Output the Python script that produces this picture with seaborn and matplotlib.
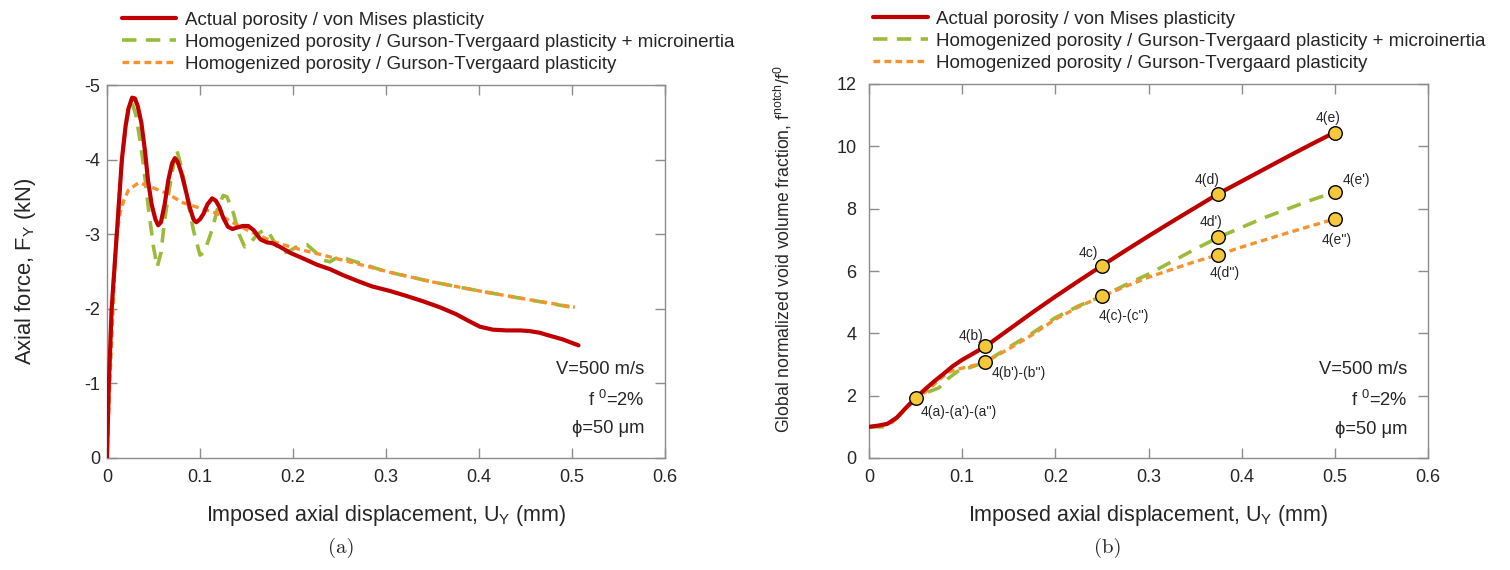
import numpy as np
import pandas as pd
import matplotlib
matplotlib.use("Agg")
import matplotlib.pyplot as plt
import seaborn as sns

# ---------------- data ----------------
labels = ["Actual porosity / von Mises plasticity",
          "Homogenized porosity / Gurson-Tvergaard plasticity + microinertia",
          "Homogenized porosity / Gurson-Tvergaard plasticity"]

# panel (a): axial force vs displacement
a_red_x = [0, 0.002, 0.005, 0.0105, 0.016, 0.020, 0.023, 0.027, 0.030, 0.033, 0.037, 0.041, 0.044,
           0.048, 0.052, 0.055, 0.058, 0.062, 0.066, 0.070, 0.073, 0.076, 0.080, 0.085, 0.089, 0.093,
           0.096, 0.100, 0.104, 0.108, 0.113, 0.117, 0.121, 0.125, 0.130, 0.135, 0.140, 0.146, 0.152,
           0.158, 0.165, 0.172, 0.178, 0.186, 0.197, 0.21, 0.226, 0.24, 0.254, 0.27, 0.285, 0.304,
           0.32, 0.34, 0.358, 0.375, 0.39, 0.401, 0.415, 0.43, 0.445, 0.455, 0.465, 0.473, 0.49, 0.507]
a_red_y = [0, -1.0, -2.0, -3.0, -4.0, -4.45, -4.68, -4.83, -4.82, -4.72, -4.49, -4.1, -3.73,
           -3.4, -3.2, -3.12, -3.16, -3.4, -3.73, -3.95, -4.02, -3.97, -3.82, -3.57, -3.36, -3.2,
           -3.16, -3.2, -3.28, -3.4, -3.48, -3.45, -3.36, -3.22, -3.1, -3.07, -3.09, -3.11, -3.11,
           -3.05, -2.93, -2.89, -2.88, -2.83, -2.75, -2.68, -2.59, -2.53, -2.45, -2.37, -2.3, -2.24,
           -2.18, -2.1, -2.02, -1.93, -1.83, -1.76, -1.72, -1.71, -1.71, -1.70, -1.68, -1.65, -1.59, -1.51]

a_grn_x = [0, 0.002, 0.005, 0.0105, 0.016, 0.020, 0.024, 0.027, 0.031, 0.035, 0.039, 0.045, 0.050,
           0.054, 0.058, 0.062, 0.067, 0.071, 0.075, 0.080, 0.086, 0.093, 0.100, 0.104, 0.108, 0.113,
           0.119, 0.125, 0.129, 0.136, 0.142, 0.148, 0.155, 0.162, 0.169, 0.175, 0.182, 0.19, 0.197,
           0.205, 0.215, 0.225, 0.233, 0.24, 0.245, 0.25, 0.26, 0.275, 0.3, 0.35, 0.4, 0.45, 0.5]
a_grn_y = [0, -1.0, -2.0, -3.0, -4.0, -4.45, -4.7, -4.76, -4.6, -4.3, -3.95, -3.3, -2.83,
           -2.56, -2.75, -3.19, -3.6, -3.9, -4.13, -3.9, -3.5, -3.05, -2.72, -2.75, -2.88, -3.06,
           -3.35, -3.52, -3.5, -3.28, -3.0, -2.83, -2.9, -3.0, -3.06, -3.0, -2.85, -2.75, -2.78,
           -2.84, -2.86, -2.75, -2.65, -2.63, -2.67, -2.70, -2.66, -2.6, -2.5, -2.36, -2.24, -2.13, -2.02]

a_org_x = [0, 0.003, 0.0065, 0.0095, 0.014, 0.018, 0.023, 0.034, 0.046, 0.064, 0.082, 0.1, 0.118,
           0.136, 0.16, 0.179, 0.2, 0.232, 0.27, 0.304, 0.35, 0.4, 0.45, 0.503]
a_org_y = [0, -1.0, -2.0, -2.9, -3.28, -3.45, -3.59, -3.69, -3.64, -3.55, -3.42, -3.35, -3.28,
           -3.15, -3.0, -2.9, -2.82, -2.72, -2.6, -2.49, -2.36, -2.24, -2.13, -2.02]

# panel (b): normalized void volume fraction vs displacement
b_red_x = [0, 0.01, 0.02, 0.03, 0.04, 0.05, 0.06, 0.07, 0.08, 0.09, 0.1, 0.11, 0.125, 0.15, 0.175,
           0.2, 0.225, 0.25, 0.275, 0.3, 0.325, 0.35, 0.375, 0.4, 0.425, 0.45, 0.475, 0.5]
b_red_y = [1.0, 1.04, 1.1, 1.3, 1.62, 1.93, 2.2, 2.46, 2.7, 2.95, 3.15, 3.32, 3.58, 4.12, 4.66,
           5.18, 5.68, 6.17, 6.65, 7.12, 7.58, 8.03, 8.48, 8.88, 9.28, 9.68, 10.07, 10.45]

b_grn_x = [0, 0.015, 0.025, 0.035, 0.05, 0.062, 0.075, 0.085, 0.095, 0.11, 0.125, 0.15, 0.175, 0.2,
           0.225, 0.25, 0.275, 0.3, 0.325, 0.35, 0.375, 0.4, 0.425, 0.45, 0.475, 0.5]
b_grn_y = [1.0, 1.0, 1.15, 1.45, 1.9, 2.1, 2.25, 2.55, 2.78, 2.92, 3.08, 3.55, 4.0, 4.5,
           4.88, 5.19, 5.55, 5.9, 6.3, 6.7, 7.08, 7.4, 7.72, 8.0, 8.28, 8.53]

b_org_x = [0, 0.015, 0.025, 0.035, 0.05, 0.062, 0.075, 0.085, 0.095, 0.11, 0.125, 0.15, 0.175, 0.2,
           0.225, 0.25, 0.275, 0.3, 0.325, 0.35, 0.375, 0.4, 0.425, 0.45, 0.475, 0.5]
b_org_y = [1.0, 1.05, 1.15, 1.45, 1.9, 2.15, 2.5, 2.75, 2.85, 2.95, 3.08, 3.5, 3.95, 4.45,
           4.85, 5.19, 5.5, 5.8, 6.05, 6.3, 6.52, 6.77, 7.0, 7.23, 7.45, 7.67]

mark_x = [0.05, 0.125, 0.125, 0.25, 0.25, 0.375, 0.375, 0.375, 0.5, 0.5, 0.5]
mark_y = [1.93, 3.58, 3.08, 6.17, 5.19, 8.48, 7.08, 6.52, 10.43, 8.53, 7.67]
mark_text = ["4(a)-(a')-(a'')", "4(b)", "4(b')-(b'')", "4c)", "4(c)-(c'')", "4(d)", "4d')",
             "4(d'')", "4(e)", "4(e')", "4(e'')"]

x_ticks = [0, 0.1, 0.2, 0.3, 0.4, 0.5, 0.6]
x_ticklabels = ["0", "0.1", "0.2", "0.3", "0.4", "0.5", "0.6"]
a_yticks = [0, -1, -2, -3, -4, -5]
a_yticklabels = ["0", "-1", "-2", "-3", "-4", "-5"]
b_yticks = [0, 2, 4, 6, 8, 10, 12]
b_yticklabels = ["0", "2", "4", "6", "8", "10", "12"]
cond_text = ["V=500 m/s", "f $^{0}$=2%", "\u03d5=50 \u03bcm"]

# ---------------- style ----------------
sns.set_theme(style="ticks")
plt.rcParams["font.family"] = ["Liberation Sans", "DejaVu Sans"]
plt.rcParams["mathtext.fontset"] = "custom"
plt.rcParams["mathtext.rm"] = "Liberation Sans"
plt.rcParams["mathtext.it"] = "Liberation Sans:italic"
plt.rcParams["mathtext.bf"] = "Liberation Sans:bold"
plt.rcParams["axes.unicode_minus"] = False

RED = "#c00000"
GRN = "#9bbb3b"
ORG = "#f7922e"
GRAY = "#8c8c8c"

fig = plt.figure(figsize=(15.1, 5.7), dpi=100)
axA = fig.add_axes([107/1510, 1-458/570, 558/1510, 373/570])
axB = fig.add_axes([869/1510, 1-458/570, 559/1510, 374/570])


def draw(ax, rx, ry, gx, gy, ox, oy):
    sns.lineplot(data=pd.DataFrame({"x": ox, "y": oy}), x="x", y="y", ax=ax, color=ORG,
                 linewidth=2.4, linestyle=(0, (2.0, 1.3)), sort=False, estimator=None,
                 label=labels[2], zorder=3)
    sns.lineplot(data=pd.DataFrame({"x": gx, "y": gy}), x="x", y="y", ax=ax, color=GRN,
                 linewidth=2.6, linestyle=(0, (4.0, 2.6)), sort=False, estimator=None,
                 label=labels[1], zorder=2)
    sns.lineplot(data=pd.DataFrame({"x": rx, "y": ry}), x="x", y="y", ax=ax, color=RED,
                 linewidth=3.0, sort=False, estimator=None, label=labels[0], zorder=4)


def frame(ax, ypad):
    for s in ax.spines.values():
        s.set_color(GRAY)
        s.set_linewidth(1.0)
    ax.tick_params(direction="in", length=7, width=1, color=GRAY, top=True, right=True,
                   labelsize=13)
    ax.tick_params(axis="x", pad=8)
    ax.tick_params(axis="y", pad=ypad)
    ax.set_xlim(0, 0.6)
    ax.set_xticks(x_ticks)
    ax.set_xticklabels(x_ticklabels)
    ax.set_xlabel("Imposed axial displacement, U$_{\\rm Y}$ (mm)", fontsize=15.5, labelpad=12)


draw(axA, a_red_x, a_red_y, a_grn_x, a_grn_y, a_org_x, a_org_y)
draw(axB, b_red_x, b_red_y, b_grn_x, b_grn_y, b_org_x, b_org_y)
frame(axA, 5)
frame(axB, 9)

axA.set_ylim(0, -5)
axA.set_yticks(a_yticks)
axA.set_yticklabels(a_yticklabels)
axA.set_ylabel("Axial force, F$_{\\rm Y}$ (kN)", fontsize=15.8)
axA.yaxis.set_label_coords(-0.123, 0.5)

axB.set_ylim(0, 12)
axB.set_yticks(b_yticks)
axB.set_yticklabels(b_yticklabels)
axB.set_ylabel("Global normalized void volume fraction, f$^{\\rm notch}$/f$^{0}$", fontsize=12.7)
axB.yaxis.set_label_coords(-0.135, 0.557)

# markers in panel (b)
sns.scatterplot(x=mark_x, y=mark_y, ax=axB, s=95, color="#f5c83a", edgecolor="black",
                linewidth=1.0, zorder=6, legend=False)
offsets = [(5, -14, "left"), (-2, 10, "right"), (6, -11, "left"), (-4, 13, "right"),
           (-3, -20, "left"), (1, 14, "right"), (4, 15, "right"), (6, -18, "center"),
           (-7, 15, "center"), (8, 12, "left"), (2, -21, "center")]
for xv, yv, t, (dx, dy, ha) in zip(mark_x, mark_y, mark_text, offsets):
    axB.annotate(t, (xv, yv), xytext=(dx * 0.72, dy * 0.72), textcoords="offset points",
                 ha=ha, va="center", fontsize=10, zorder=7)

# condition texts
for ax, xs, ys in [(axA, 0.578, [-1.19, -0.78, -0.39]), (axB, 0.578, [2.85, 1.86, 0.9])]:
    for t, yv in zip(cond_text, ys):
        ax.text(xs, yv, t, ha="right", va="center", fontsize=13.2)

# legends
for ax, bx in ((axA, 0.0134), (axB, -0.006)):
    h, l = ax.get_legend_handles_labels()
    hd = {lab: hh for hh, lab in zip(h, l)}
    ax.legend([hd[x] for x in labels], labels, loc="lower left", bbox_to_anchor=(bx, 1.013),
              frameon=False, fontsize=13.5, handlelength=2.9, labelspacing=0.25,
              handletextpad=0.45, borderaxespad=0)

# captions
fig.text(341/1510, 1-548/570, "(a)", ha="center", va="center", fontsize=15, family="cmr10")
fig.text(1108/1510, 1-548/570, "(b)", ha="center", va="center", fontsize=15, family="cmr10")

fig.savefig("out.png", dpi=100)
